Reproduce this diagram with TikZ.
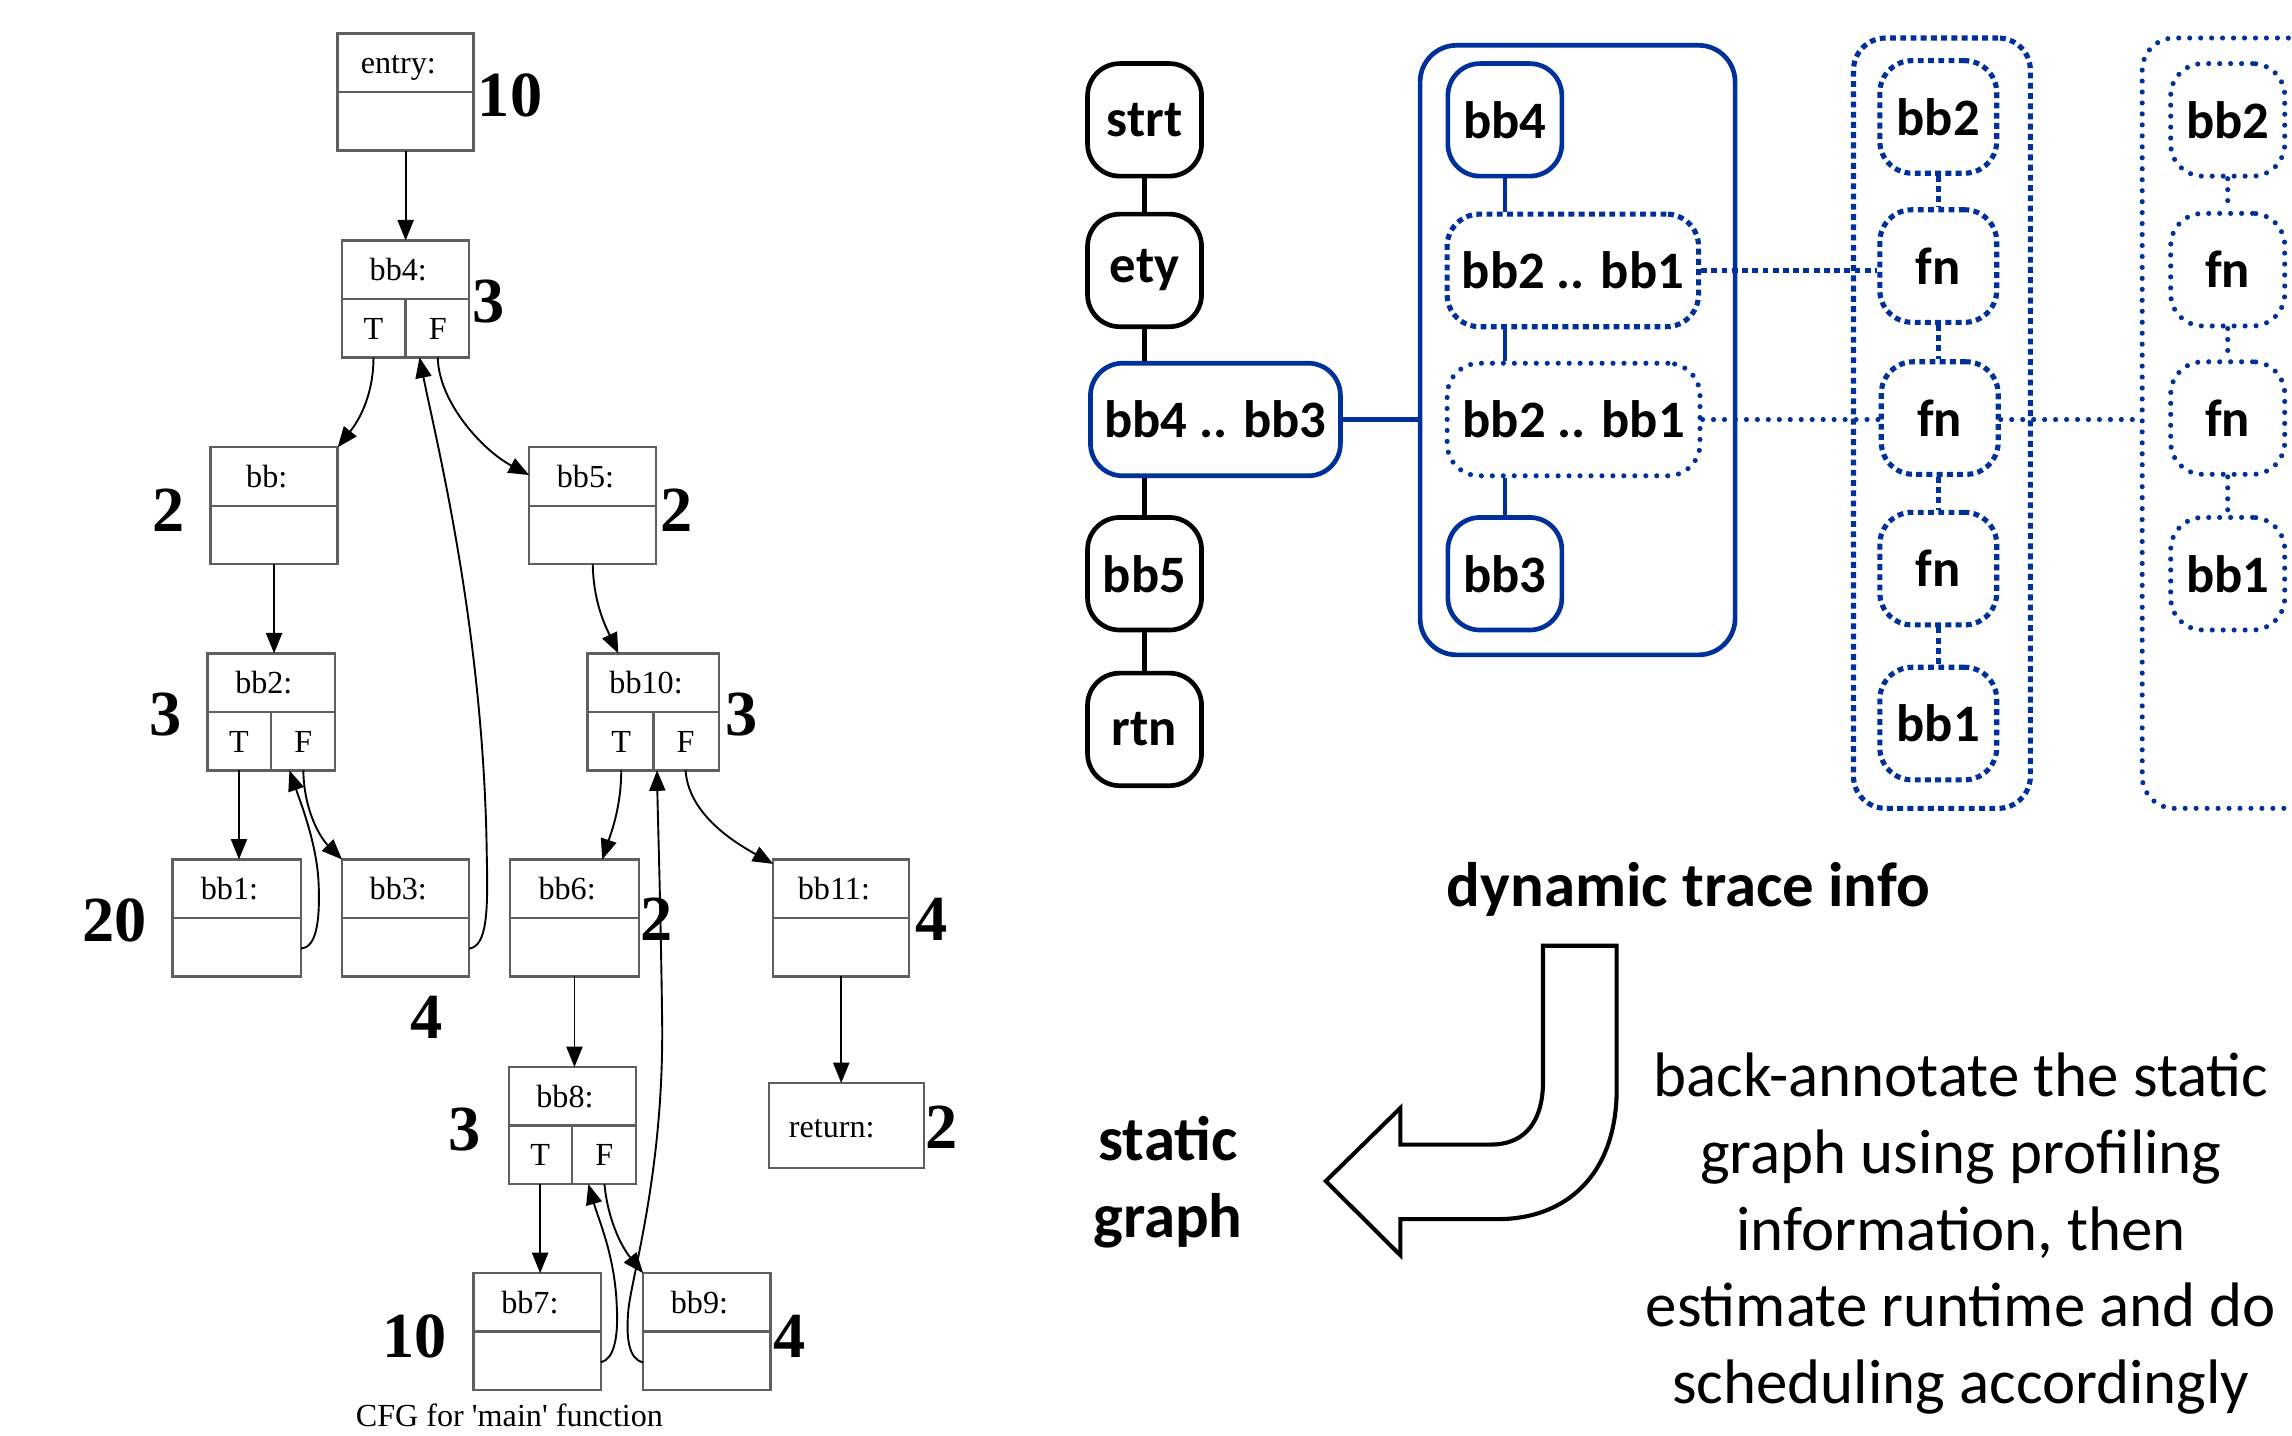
\documentclass[tikz,border=0pt]{standalone}
\usepackage{fontspec}
\usetikzlibrary{arrows.meta,calc}
\newfontfamily\cfgfont[Ligatures=TeXOff]{Liberation Serif}
\newfontfamily\calfont{Carlito}
\definecolor{tblue}{RGB}{0,48,153}
\definecolor{cfggray}{RGB}{95,95,95}

\tikzset{
  cfgbox/.style={draw=cfggray, line width=1.6pt, minimum height=80pt, inner sep=0pt, outer sep=0pt},
  cfgline/.style={draw=cfggray, line width=1.6pt},
  cfgtext/.style={font=\cfgfont\fontsize{22}{26}\selectfont, inner sep=0pt},
  count/.style={font=\cfgfont\bfseries\fontsize{44}{48}\selectfont, inner sep=0pt},
  edge/.style={draw=black, line width=1.3pt, -{Triangle[length=14pt,width=11pt]}},
  gnode/.style={rounded corners=22pt, minimum width=78pt, minimum height=77pt, inner sep=0pt,
                font=\calfont\bfseries\fontsize{36}{40}\selectfont},
  blk/.style={gnode, draw=black, line width=3.2pt},
  blu/.style={gnode, draw=tblue, line width=3.2pt},
  sqd/.style={gnode, draw=tblue, line width=3.5pt, dash pattern=on 4pt off 3pt},
  rdd/.style={gnode, draw=tblue, line width=3.5pt, line cap=round, dash pattern=on 0pt off 7.5pt},
  blkline/.style={draw=black, line width=3.2pt},
  bluline/.style={draw=tblue, line width=3.2pt},
  sqline/.style={draw=tblue, line width=3.5pt, dash pattern=on 4pt off 3pt},
  rdline/.style={draw=tblue, line width=3.5pt, line cap=round, dash pattern=on 0pt off 7.5pt},
  boldtext/.style={font=\calfont\bfseries\fontsize{43}{52}\selectfont, inner sep=0pt},
  plaintext/.style={font=\calfont\fontsize{43}{52}\selectfont, inner sep=0pt},
}

% basic block with a label section and an empty body section
\newcommand\cfgnode[5]{%
  \node[cfgbox, minimum width=#4pt] (#1) at (#2,#3) {};
  \draw[cfgline] (#1.west) -- (#1.east);
  \node[cfgtext, anchor=base] (#1-lbl) at ($(#1.center)+(-5,-12.5)$) {#5};
}
% basic block whose lower section holds the T | F ports
\newcommand\cfgbranch[1]{%
  \draw[cfgline] (#1.center) -- (#1.south);
  \coordinate (#1T) at ($(#1.south)+(-22,0)$);
  \coordinate (#1F) at ($(#1.south)+(22,0)$);
  \node[cfgtext, anchor=base] (#1-t) at ($(#1T)+(0,-12.5)$) {T};
  \node[cfgtext, anchor=base] (#1-f) at ($(#1F)+(0,-12.5)$) {F};
}

\begin{document}
\begin{tikzpicture}[x=1pt,y=-1pt]
\useasboundingbox (0,0) rectangle (1568,982);
\fill[white] (0,0) rectangle (1568,982);
\clip (0,0) rectangle (1568,982);

% ---------------- control flow graph ----------------
\cfgnode{entry}{277.5}{63}{93}{entry:}
\cfgnode{bb4}{277.5}{204.5}{87}{bb4:}   \cfgbranch{bb4}
\cfgnode{bb}{187.5}{346}{87}{bb:}
\cfgnode{bb5}{405.5}{346}{87}{bb5:}
\cfgnode{bb2}{185.5}{487}{87}{bb2:}     \cfgbranch{bb2}
\cfgnode{bb10}{447}{487}{90}{bb10:}     \cfgbranch{bb10}
\cfgnode{bb1}{162}{628}{88}{bb1:}
\cfgnode{bb3}{277.5}{628}{87}{bb3:}
\cfgnode{bb6}{393}{628}{88}{bb6:}
\cfgnode{bb11}{575.5}{628}{93}{bb11:}
\cfgnode{bb8}{391.5}{770}{87}{bb8:}     \cfgbranch{bb8}
\cfgnode{bb7}{367.5}{911}{87}{bb7:}
\cfgnode{bb9}{483.5}{911}{87}{bb9:}
\node[cfgbox, minimum width=106pt, minimum height=58pt] (return) at (579,770) {};
\node[cfgtext, anchor=base] (return-lbl) at ($(return.center)+(-10,8)$) {return:};

\node[cfgtext, anchor=base] (caption) at (348.5,976) {CFG for 'main' function};

% execution counts
\node[count] (n-entry) at (349,65) {10};
\node[count] (n-bb4) at (334,206) {3};
\node[count] (n-bb) at (115,349) {2};
\node[count] (n-bb5) at (463,349) {2};
\node[count] (n-bb2) at (113.5,489) {3};
\node[count] (n-bb10) at (507.5,488.5) {3};
\node[count] (n-bb1) at (78.5,630) {20};
\node[count] (n-bb3) at (291.5,696) {4};
\node[count] (n-bb6) at (449,629) {2};
\node[count] (n-bb11) at (637,629) {4};
\node[count] (n-bb8) at (317.5,773) {3};
\node[count] (n-ret) at (644,771) {2};
\node[count] (n-bb7) at (283.5,914) {10};
\node[count] (n-bb9) at (540,914) {4};

% control flow edges
\draw[edge] (entry.south) -- (bb4.north);
\draw[edge] (bb4T) .. controls (255.5,270) and (246,287) .. (bb.north east);
\draw[edge] (bb4F) .. controls (300,275) and (330,308) .. ($(bb5.west)+(0,-21)$);
\draw[edge] (bb.south) -- (bb.south |- bb2.north);
\draw[edge] ($(bb3.east)+(0,21)$) .. controls (333,647) and (334,625) .. (333,585)
            .. controls (331,430) and (298,300) .. ($(bb4.south)+(9.5,0)$);
\draw[edge] (bb5.south) .. controls (406,412) and (414,428) .. ($(bb10.north)+(-24,0)$);
\draw[edge] (bb2T) -- (bb2T |- bb1.north);
\draw[edge] (bb2F) .. controls (208,556) and (220,574) .. (bb3.north west);
\draw[edge] ($(bb1.east)+(0,21)$) .. controls (216,648) and (219,632) .. (218,605)
            .. controls (217,578) and (206,550) .. ($(bb2.south)+(12.5,0)$);
\draw[edge] (bb10T) .. controls (425,552) and (418,570) .. ($(bb6.north)+(19,0)$);
\draw[edge] (bb10F) .. controls (471,556) and (500,575) .. ($(bb11.north west)+(0,3)$);
\draw[edge] ($(bb9.west)+(0,21)$) .. controls (430,930) and (428,915) .. (430,895)
            .. controls (433,870) and (454,800) .. (453,700)
            .. controls (452,620) and (450,560) .. ($(bb10.south)+(2.5,0)$);
\draw[edge] (bb6.south) -- (bb6.south |- bb8.north);
\draw[edge] (bb11.south) -- (bb11.south |- return.north);
\draw[edge] (bb8T) -- (bb8T |- bb7.north);
\draw[edge] (bb8F) .. controls (416,836) and (426,854) .. (bb9.north west);
\draw[edge] ($(bb7.east)+(0,21)$) .. controls (420,930) and (423,915) .. (422,895)
            .. controls (421,860) and (410,836) .. ($(bb8.south)+(11,0)$);

% ---------------- static graph ----------------
\node[draw=tblue, line width=3.2pt, rounded corners=25pt, minimum width=215.5pt,
      minimum height=417pt, inner sep=0pt] (grp) at (1079.25,239.5) {};
\node[blk] (strt) at (783,82) {strt};
\node[blk] (ety) at (783,185) {ety};
\node[blu, minimum width=171pt] (bb43) at (831.5,287) {bb4 .. bb3};
\node[blk] (sbb5) at (783,392.5) {bb5};
\node[blk] (rtn) at (783,499) {rtn};

\node[blu] (gbb4) at (1029.5,82) {bb4};
\node[sqd, minimum width=172pt] (loopA) at (1076,185) {bb2 .. bb1};
\node[rdd, minimum width=173pt] (loopB) at (1076.5,287) {bb2 .. bb1};
\node[blu] (gbb3) at (1029.5,392.5) {bb3};

\draw[blkline] (strt.south) -- (ety.north);
\draw[blkline] (ety.south) -- (ety.south |- bb43.north);
\draw[blkline] (sbb5.north |- bb43.south) -- (sbb5.north);
\draw[blkline] (sbb5.south) -- (rtn.north);
\draw[bluline] (bb43.east) -- (bb43.east -| grp.west);
\draw[bluline] (gbb4.south) -- (gbb4.south |- loopA.north);
\draw[bluline] (gbb4.south |- loopA.south) -- (gbb4.south |- loopB.north);
\draw[bluline] (gbb3.north |- loopB.south) -- (gbb3.north);

% ---------------- dynamic traces ----------------
\node[draw=tblue, line width=3.5pt, dash pattern=on 4pt off 3pt, rounded corners=22pt,
      minimum width=121pt, minimum height=527pt, inner sep=0pt] (trA) at (1328.5,289.5) {};
\node[draw=tblue, line width=3.5pt, line cap=round, dash pattern=on 0pt off 7.5pt,
      rounded corners=22pt, minimum width=234.5pt, minimum height=527pt, inner sep=0pt]
      (trB) at (1582.75,289.5) {};

\node[sqd, minimum width=80pt] (a1) at (1326,80) {bb2};
\node[sqd, minimum width=80pt] (a2) at (1326,182) {fn};
\node[sqd, minimum width=80pt] (a3) at (1327,286) {fn};
\node[sqd, minimum width=80pt] (a4) at (1326,389) {fn};
\node[sqd, minimum width=80pt] (a5) at (1326,495) {bb1};
\draw[sqline] (a1.south) -- (a2.north);
\draw[sqline] (a2.south) -- (a2.south |- a3.north);
\draw[sqline] (a2.south |- a3.south) -- (a2.south |- a4.north);
\draw[sqline] (a4.south) -- (a5.north);

\node[rdd] (b1) at (1524,82) {bb2};
\node[rdd] (b2) at (1524,184.5) {fn};
\node[rdd] (b3) at (1524,286) {fn};
\node[rdd] (b4) at (1524,392.5) {bb1};
\draw[rdline] (b1.south) -- (b2.north);
\draw[rdline] (b2.south) -- (b3.north);
\draw[rdline] (b3.south) -- (b4.north);

\draw[sqline] (loopA.east) -- (loopA.east -| a2.west);
\draw[rdline] (loopB.east) -- (loopB.east -| a3.west);
\draw[rdline] (a3.east |- loopB.east) -- (loopB.east -| trB.west);

% ---------------- annotation ----------------
\node[boldtext, anchor=base] (dti) at (1155,620) {dynamic trace info};
\node[boldtext, anchor=base] (sg1) at (799,794) {static};
\node[boldtext, anchor=base] (sg2) at (799,846.7) {graph};

\draw[line width=2.8pt, fill=white, line join=miter]
  (1055.6,647) -- (1106,647) -- (1106,745)
  .. controls (1106,805) and (1070,834) .. (1025,834)
  -- (958,834) -- (958,858.7) -- (907,808) -- (958,758) -- (958,783) -- (1020,783)
  .. controls (1045,783) and (1055.6,765) .. (1055.6,740) -- cycle;

\node[plaintext, anchor=base] (p1) at (1341.5,750) {back-annotate the static};
\node[plaintext, anchor=base] (p2) at (1341.5,802.6) {graph using profiling};
\node[plaintext, anchor=base] (p3) at (1341.5,855.2) {information, then};
\node[plaintext, anchor=base] (p4) at (1341.5,907.8) {estimate runtime and do};
\node[plaintext, anchor=base] (p5) at (1341.5,960.4) {scheduling accordingly};
\end{tikzpicture}
\end{document}
